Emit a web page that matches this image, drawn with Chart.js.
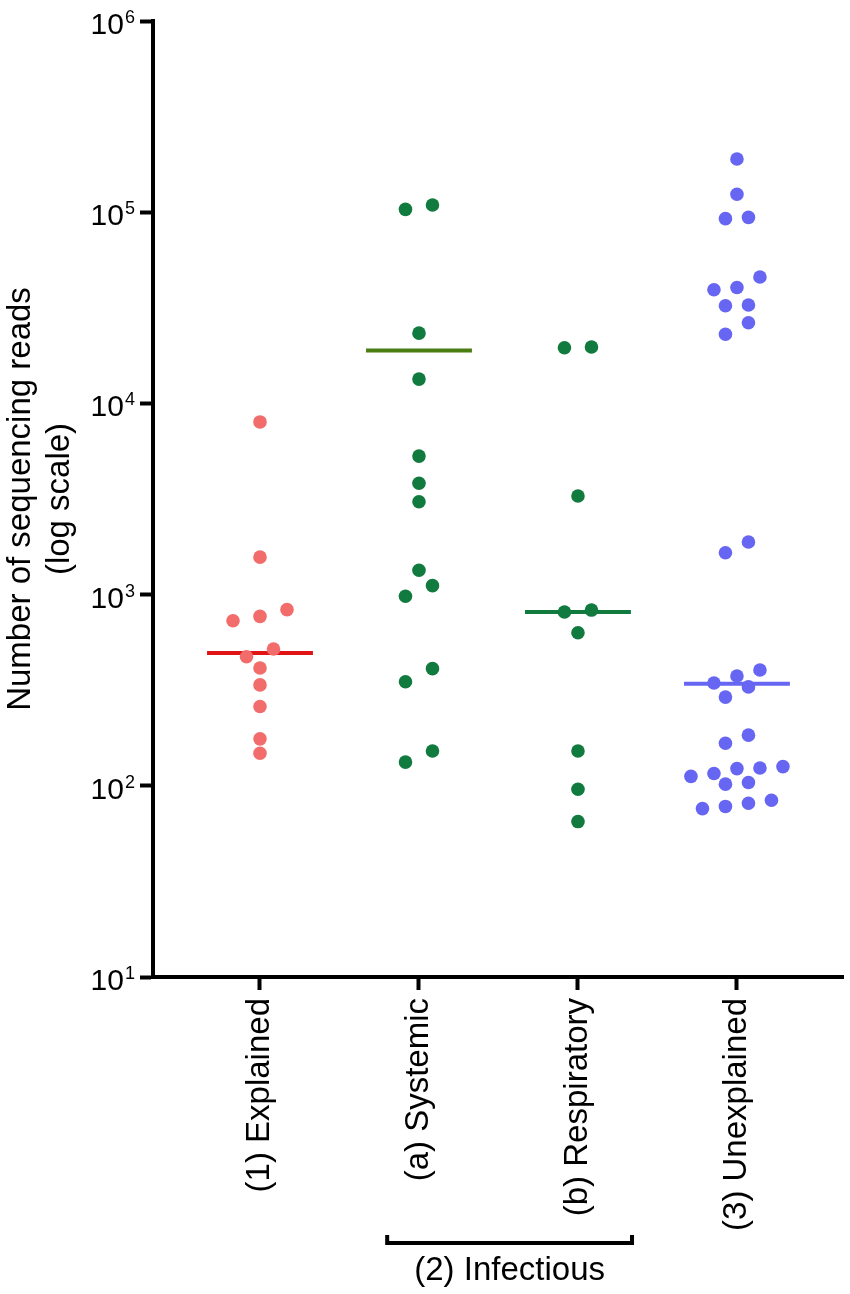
<!DOCTYPE html>
<html lang="en">
<head>
  <meta charset="UTF-8">
  <title>Sequencing reads per group</title>
  <script src="https://cdn.jsdelivr.net/npm/chart.js"></script>
  <style>
    html, body {
      margin: 0;
      padding: 0;
      background: #fff;
    }
    #chartBox {
      width: 850px;
      height: 1294px;
    }
  </style>
</head>
<body>
  <div id="chartBox"><canvas id="readsChart" width="850" height="1294"></canvas></div>

  <script>
    // Values (number of reads, log axis)
    const categories = ["(1) Explained", "(a) Systemic", "(b) Respiratory", "(3) Unexplained"];
    const explainedReads = [8000, 1570, 834, 769, 730, 519, 473, 413, 337, 260, 176, 148];
    const systemicReads = [109000, 103500, 23300, 13400, 5300, 3820, 3060, 1340, 1114, 980, 410, 350, 152, 133];
    const respiratoryReads = [19720, 19550, 3280, 830, 811, 632, 152, 96, 65];
    const unexplainedReads = [189700, 124100, 94000, 92500, 45800, 40400, 39300, 32700, 32400, 26400, 23000,
      1884, 1656, 403, 375, 345, 329, 291, 184, 167, 126, 124, 123, 116, 112, 104, 102, 84, 81, 78, 76];
    const centreLines = [495, 18900, 810, 342];
    const yTickValues = [10, 100, 1000, 10000, 100000, 1000000];
    const bracketLabel = "(2) Infectious";
    const bracketGroups = [2, 3];

    const groups = [explainedReads, systemicReads, respiratoryReads, unexplainedReads];
    const dotColors = ["#F36C6C", "#117A3E", "#117A3E", "#6666F3"];
    const lineColors = ["#E01414", "#4A7D12", "#117A3E", "#6666F3"];

    const FONT = "'Liberation Sans', Arial, Helvetica, sans-serif";
    const DOT_R = 6.8;
    const MAX_STEP = 27;     // px between neighbours in a swarm row
    const MAX_SPREAD = 92;   // px, widest a row may get

    Chart.defaults.font.family = FONT;
    Chart.defaults.color = "#000";

    // dots, then the centre lines (drawn underneath the dots)
    const datasets = [];
    groups.forEach((vals, gi) => {
      datasets.push({
        type: "scatter",
        data: vals.map(v => ({ x: gi + 1, y: v })),
        backgroundColor: dotColors[gi],
        borderWidth: 0,
        pointRadius: DOT_R,
        pointHoverRadius: DOT_R
      });
    });
    centreLines.forEach((v, gi) => {
      datasets.push({
        type: "line",
        data: [{ x: gi + 1 - 0.333, y: v }, { x: gi + 1 + 0.333, y: v }],
        borderColor: lineColors[gi],
        borderWidth: 4,
        pointRadius: 0,
        fill: false
      });
    });

    // y tick labels as 10 with a raised exponent, plus the bracket under (a) and (b)
    const extraText = {
      id: "extraText",
      afterDraw(chart) {
        const ctx = chart.ctx;
        const ys = chart.scales.y;
        const xs = chart.scales.x;
        ctx.save();
        ctx.fillStyle = "#000";
        ctx.strokeStyle = "#000";
        ctx.textBaseline = "alphabetic";
        ctx.textAlign = "right";
        const right = ys.right - 18;
        yTickValues.forEach(v => {
          const py = ys.getPixelForValue(v);
          const exp = String(Math.round(Math.log10(v)));
          ctx.font = "18px " + FONT;
          const ew = ctx.measureText(exp).width;
          ctx.fillText(exp, right, py + 2);
          ctx.font = "30px " + FONT;
          ctx.fillText("10", right - ew - 1, py + 13);
        });

        const x0 = xs.getPixelForValue(bracketGroups[0] - 0.2);
        const x1 = xs.getPixelForValue(bracketGroups[1] + 0.34);
        const by = xs.top + 266;
        ctx.lineWidth = 4;
        ctx.beginPath();
        ctx.moveTo(x0, by - 8);
        ctx.lineTo(x0, by);
        ctx.lineTo(x1, by);
        ctx.lineTo(x1, by - 8);
        ctx.stroke();
        ctx.font = "33px " + FONT;
        ctx.textAlign = "center";
        ctx.fillText(bracketLabel, (x0 + x1) / 2, xs.top + 303);
        ctx.restore();
      }
    };

    const chart = new Chart(document.getElementById("readsChart"), {
      type: "scatter",
      data: { datasets: datasets },
      options: {
        responsive: false,
        animation: false,
        events: [],
        layout: { padding: { top: 21, right: 7, left: 0, bottom: 0 } },
        plugins: {
          legend: { display: false },
          tooltip: { enabled: false }
        },
        scales: {
          x: {
            type: "linear",
            min: 0.327,
            max: 4.667,
            afterBuildTicks: s => { s.ticks = categories.map((c, i) => ({ value: i + 1 })); },
            afterFit: s => { s.height = 317; },
            grid: { drawOnChartArea: false, drawTicks: true, tickLength: 13, tickWidth: 4, tickColor: "#000" },
            border: { display: true, width: 4, color: "#000" },
            ticks: {
              autoSkip: false,
              minRotation: 90,
              maxRotation: 90,
              padding: 8,
              font: { size: 33 },
              color: "#000",
              callback: v => categories[Math.round(v) - 1]
            }
          },
          y: {
            type: "logarithmic",
            min: 10,
            max: 1000000,
            afterBuildTicks: s => { s.ticks = yTickValues.map(v => ({ value: v })); },
            afterFit: s => { s.width = 153; },
            grid: { drawOnChartArea: false, drawTicks: true, tickLength: 13, tickWidth: 4, tickColor: "#000" },
            border: { display: true, width: 4, color: "#000" },
            ticks: { display: false },
            title: {
              display: true,
              text: ["Number of sequencing reads", "(log scale)"],
              font: { size: 33 },
              color: "#000",
              padding: { top: 1, bottom: 0 }
            }
          }
        }
      },
      plugins: [extraText]
    });

    // spread dots that would overlap sideways, rows centred on the category
    function applySwarm(chart) {
      const xs = chart.scales.x;
      const ys = chart.scales.y;
      const pxPerUnit = xs.width / (xs.max - xs.min);
      groups.forEach((vals, gi) => {
        const pts = vals.map((v, i) => ({ v: v, i: i, py: ys.getPixelForValue(v) }))
          .sort((a, b) => a.py - b.py);
        const rows = [];
        pts.forEach(p => {
          const row = rows[rows.length - 1];
          if (row && p.py - row[0].py < 2 * DOT_R) row.push(p);
          else rows.push([p]);
        });
        const widest = Math.max(...rows.map(r => r.length));
        const step = widest > 1 ? Math.min(MAX_STEP, MAX_SPREAD / (widest - 1)) : MAX_STEP;
        const ds = chart.data.datasets[gi];
        rows.forEach(row => {
          row.sort((a, b) => a.v - b.v);
          row.forEach((p, k) => {
            const off = (k - (row.length - 1) / 2) * step;
            ds.data[p.i].x = gi + 1 + off / pxPerUnit;
          });
        });
      });
      chart.update("none");
    }
    applySwarm(chart);
  </script>
</body>
</html>
